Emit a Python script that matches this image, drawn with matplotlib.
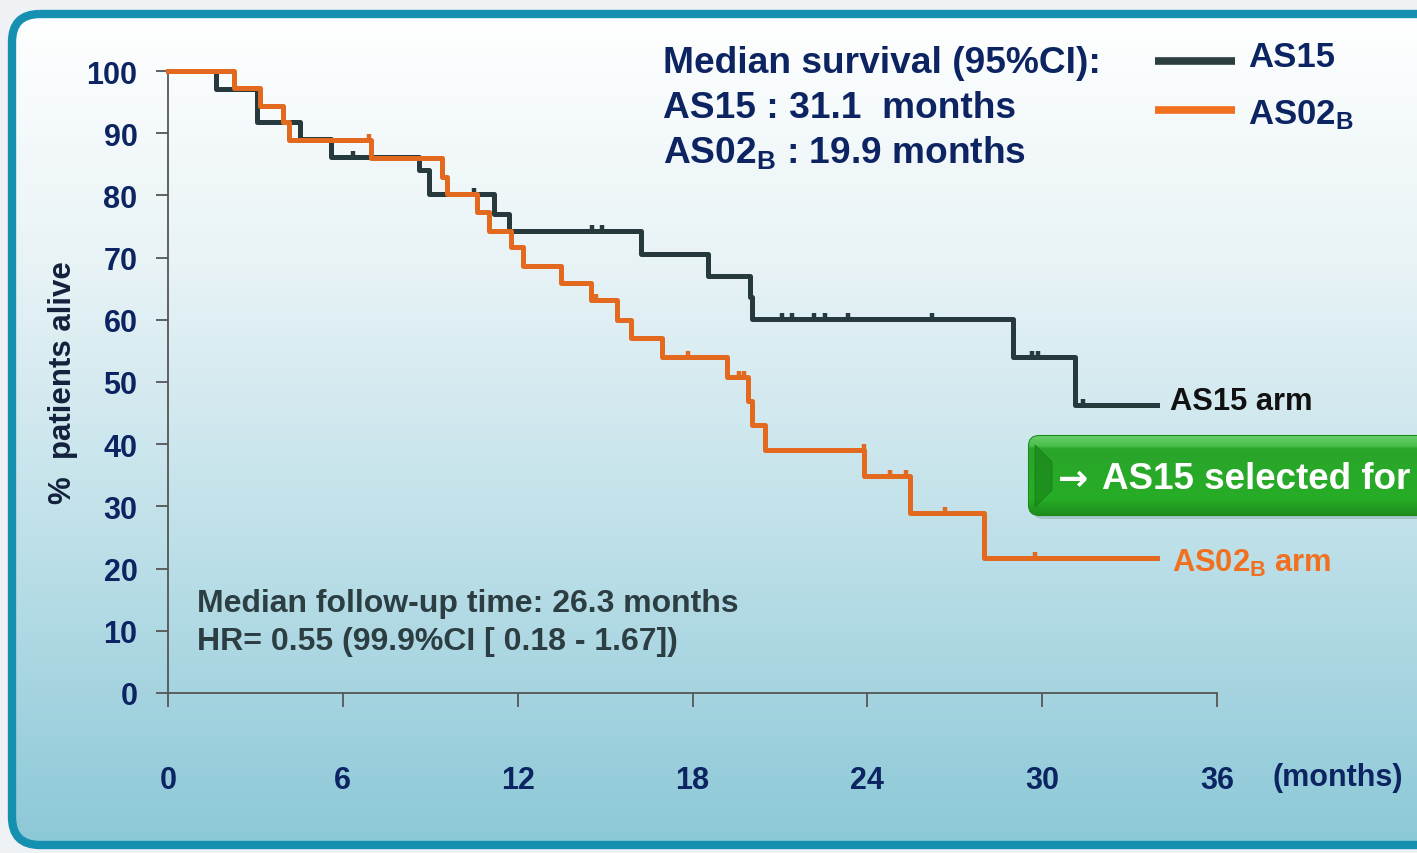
import matplotlib

matplotlib.use("Agg")
import matplotlib.pyplot as plt
import numpy as np
from matplotlib.colors import LinearSegmentedColormap
from matplotlib.patches import FancyBboxPatch

# Kaplan-Meier steps (months, % alive)
as15_time = [0, 1.65, 3.05, 4.53, 5.6, 8.6, 8.96, 11.2, 11.7, 16.23, 18.53, 19.97, 20.05, 28.99, 31.12, 33.94]
as15_surv = [100, 97.1, 91.8, 89.1, 86.2, 84.1, 80.2, 77.0, 74.2, 70.6, 67.0, 63.7, 60.1, 54.0, 46.3, 46.3]
as15_cens_time = [6.35, 10.5, 14.55, 14.9, 21.07, 21.4, 22.17, 22.55, 23.34, 26.22, 29.65, 29.86, 31.4]
as15_cens_surv = [86.2, 80.2, 74.2, 74.2, 60.1, 60.1, 60.1, 60.1, 60.1, 60.1, 54.0, 54.0, 46.3]

as02_time = [0, 2.26, 3.16, 3.95, 4.15, 6.97, 9.4, 9.57, 10.6, 11.0, 11.77, 12.2, 13.5, 14.5, 15.4,
             15.9, 16.95, 19.2, 19.9, 20.03, 20.5, 23.9, 25.47, 28.0, 33.94]
as02_surv = [100, 97.3, 94.4, 91.8, 88.9, 86.0, 82.9, 80.2, 77.3, 74.3, 71.7, 68.7, 65.9, 63.2, 60.0,
             57.1, 54.0, 50.8, 46.9, 43.1, 39.1, 34.9, 28.9, 21.7, 21.7]
as02_cens_time = [6.9, 14.69, 17.84, 19.6, 19.77, 23.88, 24.78, 25.33, 26.66, 29.75]
as02_cens_surv = [88.9, 63.2, 54.0, 50.8, 50.8, 39.1, 34.9, 34.9, 28.9, 21.7]

x_ticks = [0, 6, 12, 18, 24, 30, 36]
y_ticks = [0, 10, 20, 30, 40, 50, 60, 70, 80, 90, 100]

DARK = "#263a3e"
ORANGE = "#e3691f"
NAVY = "#0c2461"
W, H = 1417, 854

plt.rcParams["font.family"] = ["Liberation Sans", "DejaVu Sans"]
plt.rcParams["font.weight"] = "bold"
plt.rcParams["mathtext.fontset"] = "custom"
plt.rcParams["mathtext.rm"] = "Liberation Sans:bold"
plt.rcParams["mathtext.default"] = "rm"

fig = plt.figure(figsize=(W / 100, H / 100), dpi=100)
fig.patch.set_facecolor("#eef2f5")

# background layer in pixel coordinates (y down)
bg = fig.add_axes([0, 0, 1, 1])
bg.set_xlim(0, W)
bg.set_ylim(H, 0)
bg.axis("off")
bg.set_zorder(0)

frame = FancyBboxPatch((12, 15), 1440, 831, boxstyle="round,pad=0,rounding_size=28",
                       facecolor="none", edgecolor="none")
bg.add_patch(frame)
cmap = LinearSegmentedColormap.from_list(
    "bgfade", [(0, "#ffffff"), (0.3, "#e8f3f6"), (0.65, "#bcdfe8"), (1.0, "#8cc8d7")])
grad = np.linspace(0, 1, 256).reshape(-1, 1)
img = bg.imshow(grad, cmap=cmap, aspect="auto", extent=(12, 1452, 846, 15), zorder=1)
img.set_clip_path(frame)
bg.add_patch(FancyBboxPatch((12, 15), 1440, 831, boxstyle="round,pad=0,rounding_size=28",
                            facecolor="none", edgecolor="#1590b1", linewidth=6, zorder=2))

# header text
bg.text(663, 73, "Median survival (95%CI):", fontsize=26.7, color=NAVY, va="baseline", zorder=3)
bg.text(663, 118, "AS15 : 31.1  months", fontsize=26.7, color=NAVY, va="baseline", zorder=3)
bg.text(663, 163, "AS02$_{B}$ : 19.9 months", fontsize=26.7, color=NAVY, va="baseline", zorder=3)

# legend
bg.plot([1155, 1235], [62, 62], color="#2d3e40", linewidth=5.5, solid_capstyle="butt", zorder=3)
bg.plot([1155, 1235], [111, 111], color="#f07020", linewidth=5.5, solid_capstyle="butt", zorder=3)
bg.text(1248, 67, "AS15", fontsize=25, color=NAVY, va="baseline", zorder=3)
bg.text(1248, 124, "AS02$_{B}$", fontsize=25, color=NAVY, va="baseline", zorder=3)

# annotations
bg.text(197, 612, "Median follow-up time: 26.3 months", fontsize=23, color="#2d3e42",
        va="baseline", zorder=3)
bg.text(197, 650, "HR= 0.55 (99.9%CI [ 0.18 - 1.67])", fontsize=23, color="#2d3e42",
        va="baseline", zorder=3)
bg.text(1170, 410, "AS15 arm", fontsize=22.2, color="#111111", va="baseline", zorder=3)
bg.text(1172, 572, "AS02$_{B}$ arm", fontsize=22.2, color="#f07020", va="baseline", zorder=3)
bg.text(63, 383, "%  patients alive", fontsize=22.5, color="#14213d", rotation=90,
        ha="center", va="center", zorder=3)
bg.text(1338, 778, "(months)", fontsize=22, color=NAVY, ha="center", va="center", zorder=3)

# green callout
bg.add_patch(FancyBboxPatch((1033, 442), 420, 78, boxstyle="round,pad=0,rounding_size=10",
                            facecolor="#6f8f8f", edgecolor="none", alpha=0.35, zorder=3))
box = FancyBboxPatch((1029, 437), 420, 79, boxstyle="round,pad=0,rounding_size=10",
                     facecolor="#25a825", edgecolor="#1b8a1b", linewidth=1.5, zorder=4)
bg.add_patch(box)
green = LinearSegmentedColormap.from_list(
    "green", [(0, "#66cc66"), (0.12, "#4cc04c"), (0.16, "#2aa52a"), (0.8, "#27ad27"), (1.0, "#1c8c1c")])
gimg = bg.imshow(grad, cmap=green, aspect="auto", extent=(1029, 1449, 516, 437), zorder=4)
gimg.set_clip_path(box)
bg.fill([1035, 1052, 1052, 1035], [446, 463, 491, 508], color="#157d15", alpha=0.55, zorder=5)
bg.text(1058, 480, "\u2192", fontsize=26, color="white", va="center", zorder=6,
        family="DejaVu Sans")
bg.text(1102, 480, "AS15 selected for", fontsize=26.5, color="white", va="center", zorder=6)

# survival plot
ax = fig.add_axes([168 / W, 1 - 694 / H, 1049 / W, 622 / H])
ax.set_zorder(1)
ax.patch.set_visible(False)
ax.plot(as15_time, as15_surv, drawstyle="steps-post", color=DARK, linewidth=3.6,
        clip_on=False, zorder=3)
ax.plot(as15_cens_time, as15_cens_surv, linestyle="none", marker=2, markersize=4.5,
        markeredgewidth=3.2, color=DARK, clip_on=False, zorder=3)
ax.plot(as02_time, as02_surv, drawstyle="steps-post", color=ORANGE, linewidth=3.6,
        clip_on=False, zorder=4)
ax.plot(as02_cens_time, as02_cens_surv, linestyle="none", marker=2, markersize=4.5,
        markeredgewidth=3.2, color=ORANGE, clip_on=False, zorder=4)

ax.set_xlim(0, 36)
ax.set_ylim(0, 100)
ax.set_xticks(x_ticks)
ax.set_yticks(y_ticks)
ax.tick_params(axis="x", direction="out", length=10, width=1.3, color="#555555",
               pad=42, labelsize=22, labelcolor=NAVY)
ax.tick_params(axis="y", direction="out", length=9, width=1.3, color="#555555",
               pad=13, labelsize=22, labelcolor=NAVY)
for side in ("top", "right"):
    ax.spines[side].set_visible(False)
for side in ("left", "bottom"):
    ax.spines[side].set_color("#555555")
    ax.spines[side].set_linewidth(1.3)

fig.savefig("out.png", dpi=100)
